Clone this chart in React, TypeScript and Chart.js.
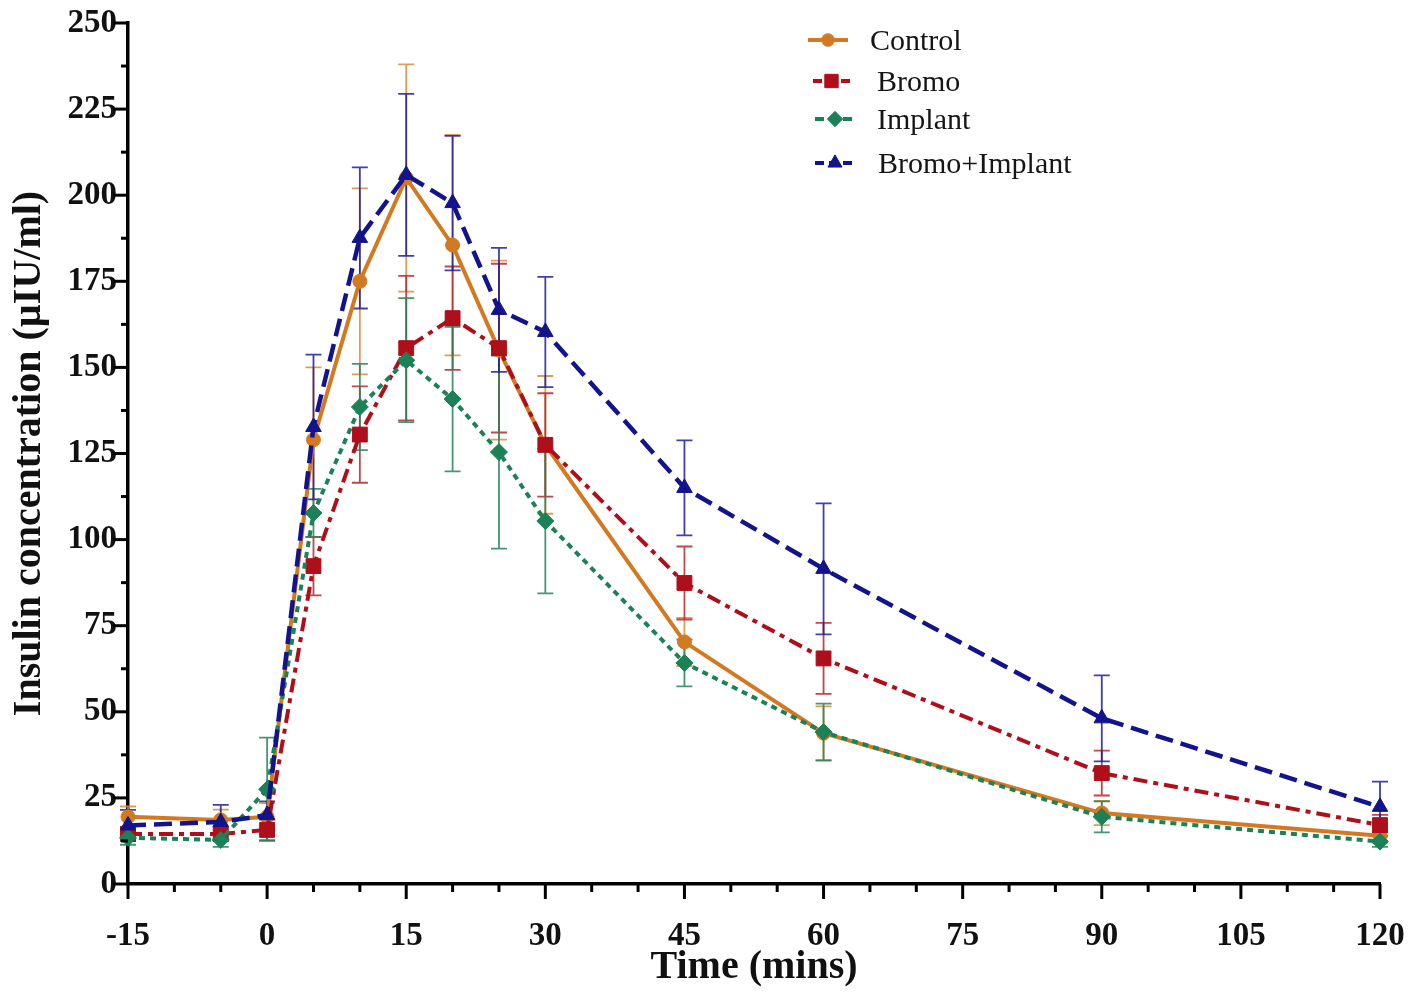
import React, { useEffect, useRef } from 'react';
import { Chart, registerables } from 'chart.js';
import { drawPoint } from 'chart.js/helpers';

Chart.register(...registerables);

// ---------- data ----------
const times = [-15, -5, 0, 5, 10, 15, 20, 25, 30, 45, 60, 90, 120];
const seriesNames = ['Control', 'Bromo', 'Implant', 'Bromo+Implant'];

const controlMean = [19.5, 18.6, 19.5, 129, 175, 205, 185.5, 155, 127.5, 70.3, 43.8, 20.6, 14];
const controlErr = [3, 3, 4, 21, 27, 33, 32, 26, 20, 7, 7.8, 3.5, 2];

const bromoMean = [14.5, 14.5, 15.7, 92.3, 130.5, 155.6, 164.3, 155.6, 127.5, 87.4, 65.5, 32.2, 17.1];
const bromoErr = [2, 2, 3, 8.5, 14, 21, 15, 24.5, 15, 10.6, 10.3, 6.5, 3];

const implantMean = [13.4, 12.8, 27.5, 107.7, 138.5, 152.1, 140.8, 125.4, 105.4, 64.2, 44.1, 19.5, 12.3];
const implantErr = [2, 2, 15, 7, 12.5, 18, 21, 28, 21, 6.8, 8.3, 4.5, 1.5];

const comboMean = [17, 18, 20, 132.7, 187.6, 205.9, 197.7, 166.7, 160.3, 115, 91.5, 48.1, 22.4];
const comboErr = [4.5, 5, 4, 21, 20.5, 23.5, 19.5, 18, 16, 13.8, 19, 12.5, 7.3];

const xTickLabels = [-15, 0, 15, 30, 45, 60, 75, 90, 105, 120];
const yTickLabels = [0, 25, 50, 75, 100, 125, 150, 175, 200, 225, 250];

// ---------- styles ----------
const SERIF = "'Liberation Serif', 'Times New Roman', serif";
const colors = ['#D27A22', '#AE0F1A', '#1C8157', '#13138C'];
const errColors = ['rgba(215,140,60,0.85)', 'rgba(180,40,45,0.85)', 'rgba(40,130,90,0.85)', 'rgba(30,30,150,0.85)'];
const dashes: number[][] = [[], [14, 6, 5, 6], [6, 5], [18, 8]];
const pointStyles = ['circle', 'rect', 'rectRot', 'triangle'];
const pointRadii = [7, 10.5, 8.5, 9];

const means = [controlMean, bromoMean, implantMean, comboMean];
const errs = [controlErr, bromoErr, implantErr, comboErr];

const errorBarPlugin = {
  id: 'errorBars',
  beforeDatasetsDraw(chart: any) {
    const ctx = chart.ctx;
    const xs = chart.scales.x;
    const ys = chart.scales.y;
    chart.data.datasets.forEach((ds: any) => {
      ctx.save();
      ctx.strokeStyle = ds.errorColor;
      ctx.lineWidth = 1.8;
      ds.data.forEach((p: any, i: number) => {
        const e = ds.errors[i];
        const x = xs.getPixelForValue(p.x);
        const yt = ys.getPixelForValue(p.y + e);
        const yb = ys.getPixelForValue(Math.max(0, p.y - e));
        ctx.beginPath();
        ctx.moveTo(x, yt);
        ctx.lineTo(x, yb);
        ctx.moveTo(x - 8, yt);
        ctx.lineTo(x + 8, yt);
        ctx.moveTo(x - 8, yb);
        ctx.lineTo(x + 8, yb);
        ctx.stroke();
      });
      ctx.restore();
    });
  },
};

const axisTicksPlugin = {
  id: 'axisTicks',
  afterDraw(chart: any) {
    const { ctx, chartArea } = chart;
    const xs = chart.scales.x;
    const ys = chart.scales.y;
    ctx.save();
    ctx.strokeStyle = '#000';
    ctx.lineWidth = 3;
    for (let v = xs.min; v <= xs.max + 1e-9; v += 5) {
      const px = xs.getPixelForValue(v);
      const major = Math.abs((v - xs.min) % 15) < 1e-6;
      ctx.beginPath();
      ctx.moveTo(px, chartArea.bottom);
      ctx.lineTo(px, chartArea.bottom + (major ? 15 : 8));
      ctx.stroke();
    }
    for (let v = ys.min; v <= ys.max + 1e-9; v += 12.5) {
      const py = ys.getPixelForValue(v);
      const major = Math.abs(v % 25) < 1e-6;
      ctx.beginPath();
      ctx.moveTo(chartArea.left, py);
      ctx.lineTo(chartArea.left - (major ? 15 : 7), py);
      ctx.stroke();
    }
    ctx.restore();
  },
};

const legendPlugin = {
  id: 'customLegend',
  afterDraw(chart: any) {
    const ctx = chart.ctx;
    const rowY = [40, 81, 119, 163];
    const lineX0 = [808, 813, 815, 815];
    const lineX1 = [848, 850, 855, 855];
    const textX = [870, 877, 877, 878];
    chart.data.datasets.forEach((ds: any, i: number) => {
      const y = rowY[i];
      ctx.save();
      ctx.strokeStyle = ds.borderColor;
      ctx.lineWidth = 4;
      ctx.setLineDash(i === 0 ? [] : [9, 5]);
      ctx.beginPath();
      ctx.moveTo(lineX0[i], y);
      ctx.lineTo(lineX1[i], y);
      ctx.stroke();
      ctx.setLineDash([]);
      ctx.fillStyle = ds.backgroundColor;
      ctx.strokeStyle = ds.borderColor;
      ctx.lineWidth = 1;
      drawPoint(ctx, { pointStyle: ds.pointStyle, radius: ds.pointRadius * 0.9, borderWidth: 1, rotation: 0 } as any, (lineX0[i] + lineX1[i]) / 2, y);
      ctx.fillStyle = '#151515';
      ctx.font = `30px ${SERIF}`;
      ctx.textBaseline = 'middle';
      ctx.textAlign = 'left';
      ctx.fillText(ds.label, textX[i], y + 2);
      ctx.restore();
    });
  },
};

export default function App() {
  const canvasRef = useRef<HTMLCanvasElement | null>(null);

  useEffect(() => {
    if (!canvasRef.current) return;
    const datasets = seriesNames.map((name, k) => ({
      label: name,
      data: times.map((t, i) => ({ x: t, y: means[k][i] })),
      errors: errs[k],
      errorColor: errColors[k],
      borderColor: colors[k],
      backgroundColor: colors[k],
      borderWidth: k === 3 ? 4.5 : 4,
      borderDash: dashes[k],
      pointStyle: pointStyles[k],
      pointRadius: pointRadii[k],
      pointBorderWidth: 1,
      pointBackgroundColor: colors[k],
      pointBorderColor: colors[k],
      tension: 0,
      fill: false,
      clip: false,
      order: 4 - k,
    }));

    const chart = new Chart(canvasRef.current, {
      type: 'line',
      data: { datasets } as any,
      options: {
        animation: false,
        responsive: false,
        devicePixelRatio: 1,
        layout: { padding: { left: 0, right: 38, top: 23, bottom: 0 } },
        plugins: { legend: { display: false }, tooltip: { enabled: false } },
        scales: {
          x: {
            type: 'linear',
            min: -15,
            max: 120,
            afterFit: (s: any) => {
              s.height = 114;
              s.paddingLeft = 0;
              s.paddingRight = 0;
              s.paddingTop = 0;
              s.paddingBottom = 0;
            },
            afterBuildTicks: (s: any) => { s.ticks = xTickLabels.map((v) => ({ value: v })); },
            grid: { display: false, drawTicks: false },
            border: { display: true, color: '#000', width: 3.5 },
            ticks: {
              padding: 33,
              color: '#111',
              font: { family: SERIF, size: 33, weight: 'bold' },
              autoSkip: false,
              maxRotation: 0,
              callback: (v: any) => String(v),
            },
            title: {
              display: true,
              text: 'Time (mins)',
              color: '#111',
              font: { family: SERIF, size: 40, weight: 'bold' },
              padding: { top: 0, bottom: 6 },
            },
          },
          y: {
            type: 'linear',
            min: 0,
            max: 250,
            afterFit: (s: any) => {
              s.width = 128;
              s.paddingLeft = 0;
              s.paddingRight = 0;
              s.paddingTop = 0;
              s.paddingBottom = 0;
            },
            afterBuildTicks: (s: any) => { s.ticks = yTickLabels.map((v) => ({ value: v })); },
            grid: { display: false, drawTicks: false },
            border: { display: true, color: '#000', width: 3.5 },
            ticks: {
              padding: 11,
              color: '#111',
              font: { family: SERIF, size: 33, weight: 'bold' },
              autoSkip: false,
              callback: (v: any) => String(v),
            },
            title: {
              display: true,
              text: 'Insulin concentration (µIU/ml)',
              color: '#111',
              font: { family: SERIF, size: 40, weight: 'bold' },
              padding: { top: 6, bottom: 0 },
            },
          },
        },
      } as any,
      plugins: [errorBarPlugin, axisTicksPlugin, legendPlugin],
    });
    return () => chart.destroy();
  }, []);

  return (
    <div style={{ position: 'fixed', left: 0, top: 0, width: 1418, height: 998, background: '#fff' }}>
      <canvas ref={canvasRef} width={1418} height={998} style={{ width: 1418, height: 998, display: 'block' }} />
    </div>
  );
}
